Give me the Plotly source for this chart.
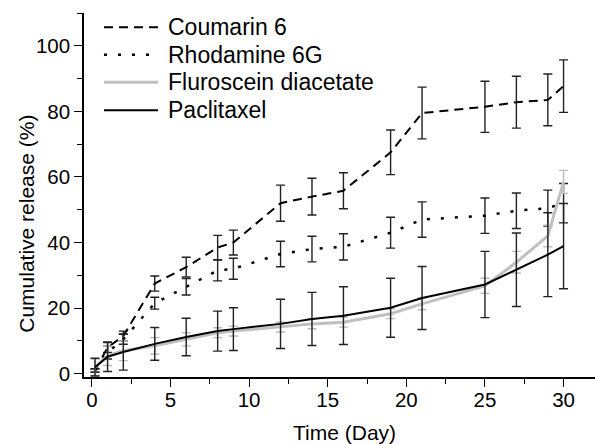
import plotly.graph_objects as go

# Data
days = [0.2, 1, 2, 4, 6, 8, 9, 12, 14, 16, 19, 21, 25, 27, 29, 30]

coumarin = [1.0, 8.0, 11.5, 27.5, 32.5, 38.5, 40.0, 52.0, 54.0, 55.8, 67.5, 79.5, 81.4, 82.8, 83.5, 87.7]
coumarin_err = [0.5, 1.5, 1.5, 2.3, 3.0, 3.7, 3.8, 5.5, 5.6, 5.5, 6.8, 7.9, 7.8, 7.9, 7.9, 8.0]

rhodamine = [1.0, 6.5, 10.5, 21.5, 26.5, 31.5, 32.0, 36.5, 38.0, 38.7, 43.0, 47.0, 48.2, 49.7, 50.5, 52.0]
rhodamine_err = [0.5, 2.0, 1.5, 1.8, 2.5, 3.2, 3.2, 3.9, 3.9, 4.0, 4.7, 5.4, 5.4, 5.4, 5.5, 6.0]

fluroscein = [2.0, 5.5, 7.0, 8.5, 10.5, 12.5, 13.0, 14.2, 15.2, 15.7, 18.3, 21.3, 26.8, 34.0, 42.0, 58.5]
fluroscein_err = [2.5, 3.0, 3.0, 2.5, 2.0, 1.5, 1.5, 1.5, 1.5, 1.5, 1.5, 1.8, 2.3, 3.3, 3.3, 3.5]

paclitaxel = [2.0, 5.2, 6.6, 9.1, 11.2, 13.0, 13.6, 15.2, 16.7, 17.7, 20.1, 23.1, 27.2, 31.7, 36.3, 38.9]
paclitaxel_err = [2.7, 4.5, 5.5, 5.0, 5.7, 6.1, 6.5, 7.5, 8.1, 8.8, 9.0, 9.6, 10.1, 11.2, 12.8, 13.0]

series_names = ["Coumarin 6", "Rhodamine 6G", "Fluroscein diacetate", "Paclitaxel"]

x_ticks = [0, 5, 10, 15, 20, 25, 30]
y_ticks = [0, 20, 40, 60, 80, 100]

FONT = "Liberation Sans, Arial, sans-serif"

styles = [
    dict(color="black", width=2, dash="9px,6px", err="#222222"),
    dict(color="black", width=2.5, dash="3px,11px", err="#222222"),
    dict(color="#c0c0c0", width=3, dash="solid", err="#bbbbbb"),
    dict(color="black", width=2, dash="solid", err="#222222"),
]

fig = go.Figure()
for name, y, err, st in zip(series_names,
                            [coumarin, rhodamine, fluroscein, paclitaxel],
                            [coumarin_err, rhodamine_err, fluroscein_err, paclitaxel_err],
                            styles):
    fig.add_trace(go.Scatter(
        x=days, y=y, name=name, mode="lines", showlegend=False,
        line=dict(color=st["color"], width=st["width"], dash=st["dash"]),
        error_y=dict(type="data", array=err, visible=True,
                     color=st["err"], thickness=1.4, width=4.5),
    ))

# Legend drawn as text + sample lines (tight spacing like the original)
leg_y = [0.9607, 0.8852, 0.8096, 0.7327]
annotations = []
shapes = []
for name, st, yy in zip(series_names, styles, leg_y):
    annotations.append(dict(text=name, xref="paper", yref="paper", x=0.1605, y=yy,
                            xanchor="left", yanchor="middle", showarrow=False,
                            font=dict(family=FONT, size=23, color="black")))
    shapes.append(dict(type="line", xref="paper", yref="paper",
                       x0=0.0391, x1=0.1448, y0=yy, y1=yy,
                       line=dict(color=st["color"], width=st["width"], dash=st["dash"])))

annotations += [
    dict(text="Time (Day)", xref="paper", yref="paper", x=0.509, y=-0.152,
         xanchor="center", yanchor="middle", showarrow=False,
         font=dict(family=FONT, size=21, color="black")),
    dict(text="Cumulative release (%)", xref="paper", yref="paper",
         x=-0.1115, y=0.421, xanchor="center", yanchor="middle",
         textangle=-90, showarrow=False,
         font=dict(family=FONT, size=21, color="black")),
]

axis_common = dict(
    showline=True, linecolor="black", linewidth=1.6, mirror=False,
    showgrid=False, zeroline=False,
    ticks="outside", ticklen=8, tickwidth=1.4, tickcolor="black",
    tickfont=dict(family=FONT, size=20.5, color="black"),
)

fig.update_layout(
    width=595, height=444,
    margin=dict(l=84, r=0, t=13, b=67),
    paper_bgcolor="white", plot_bgcolor="white",
    font=dict(family=FONT, color="black"),
    showlegend=False,
    xaxis=dict(range=[-0.5, 32], tickvals=x_ticks, ticklabelstandoff=-4,
               minor=dict(dtick=2.5, tick0=0, ticks="outside", ticklen=5,
                          tickwidth=1.4, tickcolor="black"),
               **axis_common),
    yaxis=dict(range=[-1, 110], tickvals=y_ticks,
               minor=dict(dtick=10, tick0=0, ticks="outside", ticklen=5,
                          tickwidth=1.4, tickcolor="black"),
               **axis_common),
    annotations=annotations,
    shapes=shapes,
)

fig.write_html("out.html", config={"displayModeBar": False},
               post_script="document.body.style.margin='0';")
